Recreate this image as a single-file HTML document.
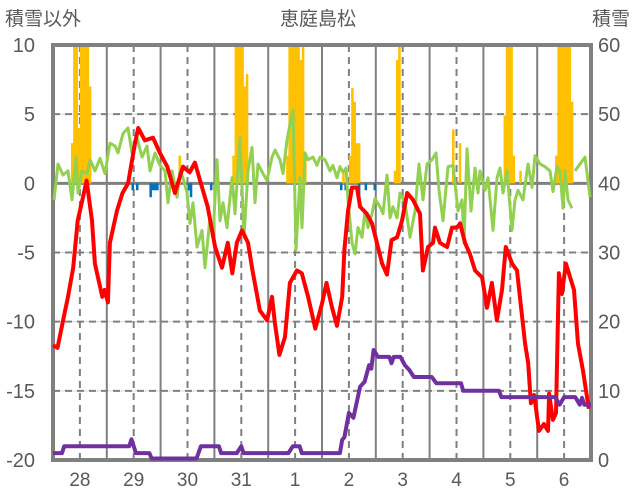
<!DOCTYPE html>
<html><head><meta charset="utf-8"><style>
body{margin:0;background:#fff;}
svg{display:block;font-family:"Liberation Sans","Noto Sans CJK JP",sans-serif;}
</style></head><body>
<svg id="chart" width="636" height="501">
<g id="grid"></g>
<g id="bars"></g>
<g id="frame"></g>
<g id="lines"></g>
<g id="labels"></g>
<text x="5" y="25" font-size="19" fill="#595959">積雪以外</text>
<text x="318" y="25" font-size="19" fill="#595959" text-anchor="middle">恵庭島松</text>
<text x="630" y="25" font-size="19" fill="#595959" text-anchor="end">積雪</text>
</svg>
<script>
const dayLabels=["28","29","30","31","1","2","3","4","5","6"];
const leftTicks=[10,5,0,-5,-10,-15,-20];
const rightTicks=[60,50,40,30,20,10,0];
const tempHours=[0,2,4.5,6.7,9,11,13.4,15,17.4,18.7,22,23,24.5,25.4,28.5,31,33.5,36.6,38,41,44.6,47.7,51,54.4,58,61,63.3,66.5,69,72.3,75.4,78,80,82,84.3,87,89,92.3,95.5,97.7,99,101,103.5,105.7,108.8,111,113.8,117,120,122,124.5,126.7,129,130,131.6,133.4,135.6,137,140,142.3,144.5,146.8,149,151,153.5,155.7,158,160.6,163.7,165,167.3,169.5,170.4,172.6,175.8,178,180.2,181.6,183.8,186,188.3,191.4,193.6,195.8,198,200.3,202,204.8,207,208.3,210.6,212,213.2,214.6,216.8,219,220.8,221.3,223,224.4,225.7,227,228.8,232.4,234.2,236.4,239];
const tempValues=[-11.7,-11.9,-9.9,-8.2,-6.1,-2.7,-1.0,0.2,-2.7,-5.8,-8.2,-7.7,-8.6,-4.3,-2.0,-0.7,0,2.9,4.0,3.1,3.3,2.2,1.2,-0.7,1.2,0.8,1.5,-0.3,-1.7,-4.6,-6.1,-4.3,-6.5,-4.3,-3.4,-4.3,-6.3,-9.2,-9.9,-8.2,-10.1,-12.4,-11.1,-7.2,-6.3,-6.5,-8.2,-10.5,-8.7,-7.2,-9.0,-10.3,-8.2,-4.8,-2.0,-0.3,-0.3,-1.7,-2.2,-2.9,-4.3,-5.8,-6.6,-4.1,-3.9,-2.7,-0.7,-1.2,-2.2,-6.3,-4.6,-4.3,-3.2,-4.3,-4.6,-3.2,-3.2,-2.9,-4.3,-5.1,-6.3,-6.8,-9.0,-7.2,-9.9,-7.7,-4.6,-5.8,-6.3,-8.2,-11.6,-13.0,-15.9,-15.3,-17.9,-17.4,-17.9,-15.2,-17.1,-16.6,-6.5,-8.0,-5.8,-7.7,-11.6,-13.5,-16.3];
const greenXs=[54,58,63,68,72,76,78,82,87,90,95,100,105,110,115,118,123,128,132,137,142,147,150,155,160,165,168,172,177,180,183,187,190,193,197,202,205,210,213,217,220,223,227,232,235,240,244,248,252,255,258,263,267,272,275,280,283,287,290,293,296,300,302,305,308,313,317,320,325,330,333,337,340,343,346,348,352,355,358,362,365,368,372,375,380,383,387,390,393,397,400,405,410,415,419,423,427,432,436,439,443,448,453,458,462,464,467,471,475,478,480,485,488,493,497,500,503,507,512,515,518,523,528,532,535,540,545,550,553,557,560,563,565,568,572,573,575,585,590];
const greenValues=[-1.2,1.4,0.6,0.9,-1.2,1.9,-0.7,0.9,0.7,1.7,0.9,1.8,0.7,2.9,2.7,2.2,3.6,4.0,2.2,3.3,1.9,2.7,0.9,2.2,1.3,0.9,-1.4,0.9,-1.0,0.9,0.4,-0.7,-2.9,-1.4,-4.6,-3.4,-6.1,-2.5,-3.9,1.7,-2.7,-1.4,-3.2,0.4,-2.2,3.3,-3.9,0.9,2.6,-1.4,1.4,0.7,0.2,1.9,2.4,1.7,0.7,3.1,4.3,5.3,-4.8,0.4,-3.2,2.2,1.7,1.9,1.3,1.9,1.7,0.9,1.3,0.4,1.2,0.8,1.1,-1.2,-4.3,-5.1,-3.2,-3.9,-2.0,-3.2,-2.2,-1.1,-1.7,-2.2,0.6,-2.5,-1.7,-2.5,-0.7,-1.4,-3.9,-2.0,1.4,-1.2,1.4,1.7,2.2,-0.5,-2.7,1.2,1.3,-2.0,-1.2,-4.3,2.5,-2.0,1.1,-0.7,0.9,-0.5,0.4,-3.4,0.4,1.1,-0.7,0.9,-3.4,-1.2,-0.5,-1.2,1.4,-0.3,2.0,1.4,1.2,0.9,-0.6,1.2,0.9,-1.8,0.9,-1.2,-1.8,null,0.9,1.9,-1.0];
const snowfallHours=[8,9,10,11,12,13,14,15,16,56,80,81,82,83,84,85,86,104,105,106,107,108,109,110,111,112,129,132,133,134,135,136,152,153,154,178,181,201,202,203,204,205,208,224,225,226,227,228,229,230,231];
const snowfallValues=[2.9,12,12,4.0,12,12,12,12,7.0,2.0,2.0,12,12,12,12,7.0,7.9,2.0,12,12,12,12,12,8.9,12,2.0,0.9,2.0,6.9,5.9,2.9,2.9,0.9,8.9,12,3.9,2.9,4.9,12,12,12,2.0,0.9,2.0,12,12,12,12,12,12,5.9];
const negHours=[35,37,43,44,45,46,60,61,70,128,130,136,139,143];
const negValues=[-0.5,-0.5,-1.0,-0.5,-0.5,-0.5,-0.5,-1.0,-0.5,-0.5,-0.5,-1.0,-0.5,-0.5];
const depthHours=[0,4,5,34,35,36,37,43,44,64,66,74,75,82,84,85,105,107,110,111,128,129,130,132,134,137,139,141,142,143,145,150,151,152,155,157,159,161,169,171,182,183,199,200,224,226,228,233,235,236,237,240];
const depthValues=[1,1,2,2,3,2,1,1,0,0,2,2,1,1,2,1,1,2,2,1,1,2.9,3.3,6.8,6.1,10.6,11.3,13.7,13.2,15.9,14.9,14.9,14.0,14.9,14.9,13.7,13.0,12,12,11.1,11.1,10,10,9.1,9.1,8.0,9.1,9.1,8.0,9,8,8];

const L=53,R=591,T=45,B=460;
const xT=t=>L+t*(R-L)/240;
const xDay=i=>xT(12+24*i);
const yL=v=>B-(v+20)*(B-T)/30;
const yR=v=>B-v*(B-T)/60;
const NS="http://www.w3.org/2000/svg";
function mk(tag,parent,attrs){const e=document.createElementNS(NS,tag);for(const k in attrs)e.setAttribute(k,attrs[k]);document.getElementById(parent).appendChild(e);return e;}

leftTicks.forEach(v=>{
  if(v===10||v===-20||v===0)return;
  const g=mk('line','grid',{x1:L,x2:R,y1:yL(v),y2:yL(v),stroke:'#d9d9d9','stroke-width':1});
  
  
  const d=mk('line','grid',{x1:L,x2:R,y1:yL(v),y2:yL(v),stroke:'#808080','stroke-width':2,'stroke-dasharray':'7,5'});
  
  
});
dayLabels.forEach((lab,i)=>{
  const x=xDay(i);
  const d=mk('line','grid',{x1:x,x2:x,y1:T,y2:B,stroke:'#808080','stroke-width':2,'stroke-dasharray':'7,5'});
  
  
  if(i<dayLabels.length-1){
    const xs=xT(24+24*i);
    const s=mk('line','grid',{x1:xs,x2:xs,y1:T,y2:B,stroke:'#808080','stroke-width':2});
    
    
  }
  const t=mk('text','labels',{x:x,y:486,'font-size':19,fill:'#595959','text-anchor':'middle'});
  t.textContent=lab;
  
  
});
const bw=(R-L)/240;
snowfallHours.forEach((h,i)=>{
  const v=Math.min(snowfallValues[i],10);
  const r=mk('rect','bars',{x:xT(h),y:yL(v),width:bw+0.3,height:yL(0)-yL(v),fill:'#ffc000'});
  
  
});
negHours.forEach((h,i)=>{
  const v=negValues[i];
  const r=mk('rect','bars',{x:xT(h),y:yL(0),width:bw+0.3,height:yL(v)-yL(0),fill:'#0070c0'});
  
  
});
const z=mk('line','grid',{x1:L,x2:R,y1:yL(0),y2:yL(0),stroke:'#808080','stroke-width':3});



function pathFrom(xs,ys){let d='',pen=false;xs.forEach((x,i)=>{if(ys[i]===null){pen=false;return;}d+=(pen?'L':'M')+x.toFixed(1)+','+ys[i].toFixed(1);pen=true;});return d;}
const gl=mk('path','lines',{d:pathFrom(greenXs,greenValues.map(v=>v===null?null:yL(v))),fill:'none',stroke:'#92d050','stroke-width':3,'stroke-linejoin':'round'});


const rl=mk('path','lines',{d:pathFrom(tempHours.map(xT),tempValues.map(yL)),fill:'none',stroke:'#ff0000','stroke-width':4,'stroke-linejoin':'round'});


const pl=mk('path','lines',{d:pathFrom(depthHours.map(xT),depthValues.map(v=>Math.min(yR(v),B-1.5))),fill:'none',stroke:'#7030a0','stroke-width':4,'stroke-linejoin':'round'});



const fr=mk('rect','frame',{x:L,y:T,width:R-L,height:B-T,fill:'none',stroke:'#808080','stroke-width':4});


leftTicks.forEach(v=>{
  const t=mk('text','labels',{x:35,y:yL(v)+7,'font-size':20,fill:'#595959','text-anchor':'end'});
  t.textContent=v;
  
  
});
rightTicks.forEach(v=>{
  const t=mk('text','labels',{x:598,y:yR(v)+7,'font-size':20,fill:'#595959'});
  t.textContent=v;
  
  
});
</script>
</body></html>
